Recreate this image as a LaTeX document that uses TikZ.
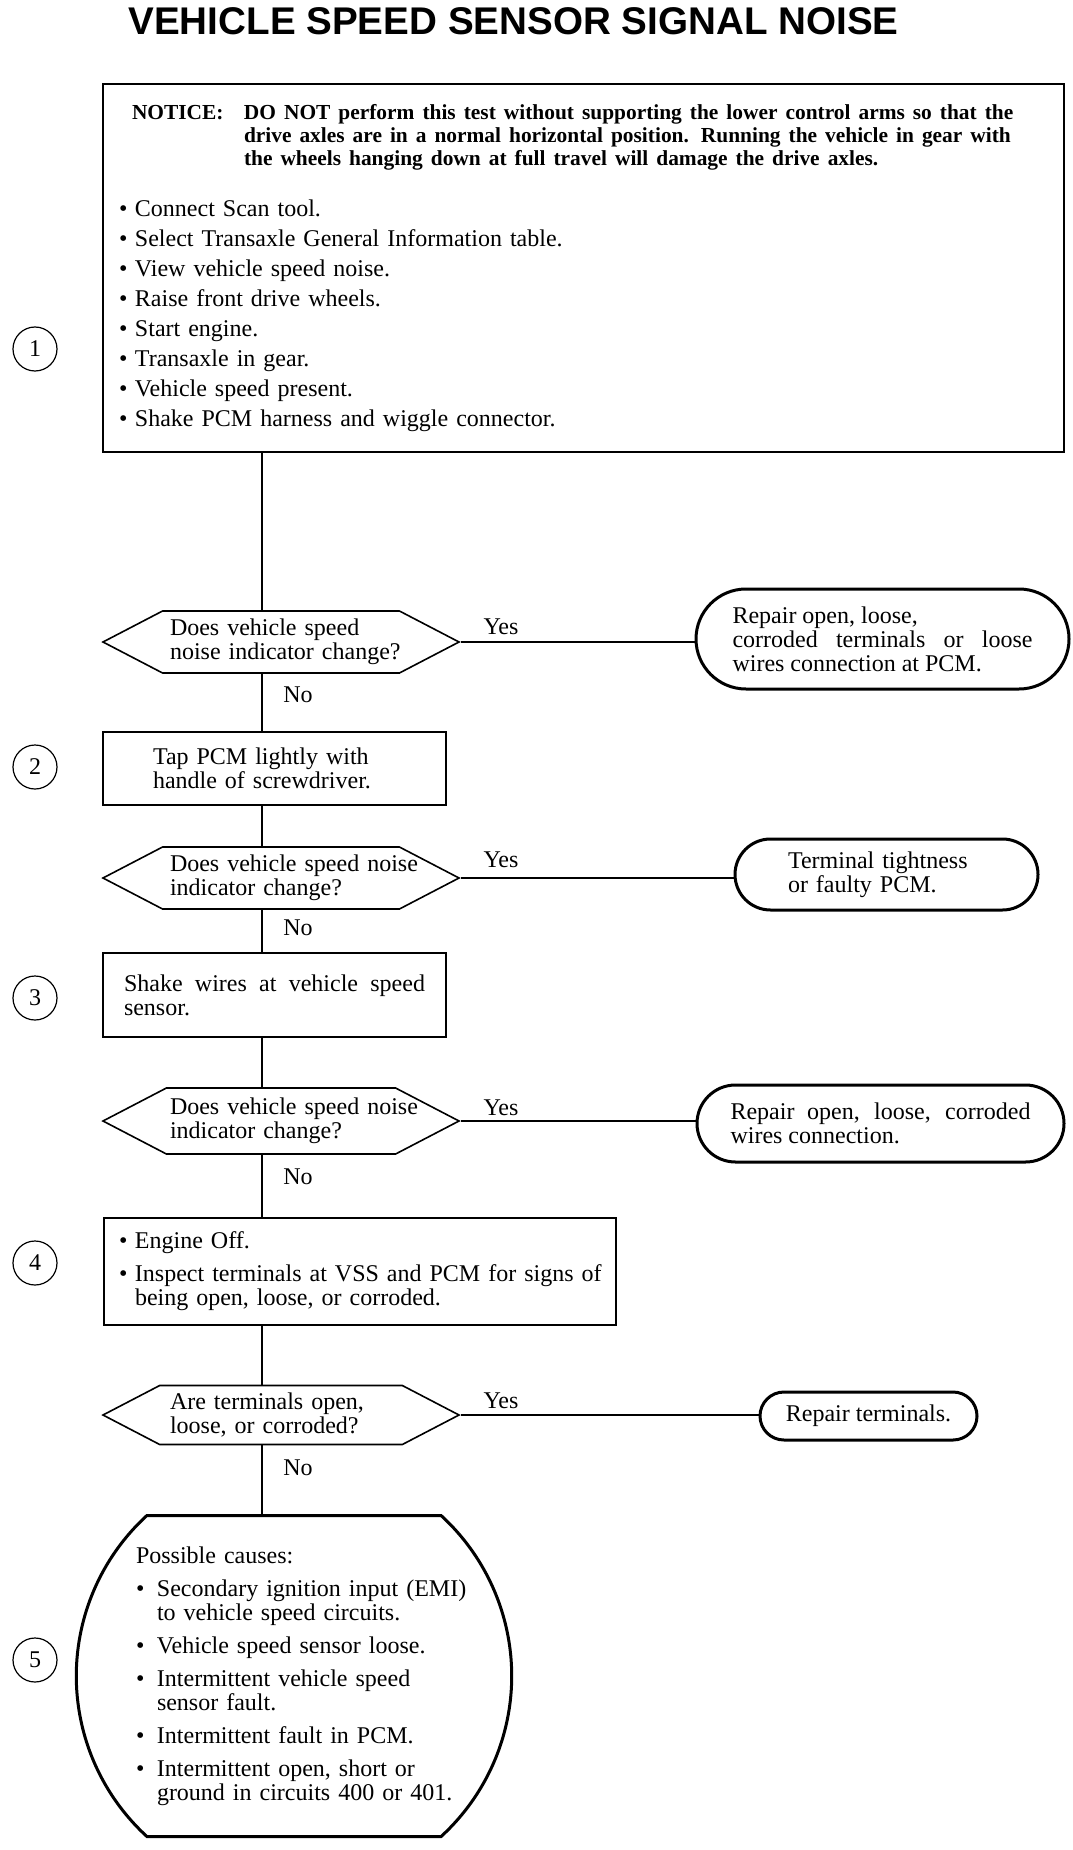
\documentclass[tikz,border=0pt]{standalone}
\usepackage{fontspec}
\setmainfont{Liberation Serif}
\newfontfamily\titlefont{Liberation Sans}
\usetikzlibrary{shapes.misc,shapes.symbols}

\newcommand{\bul}{\makebox[8pt][l]{\raisebox{0pt}{\fontsize{12}{12}\selectfont\textbullet}}}
\newcommand{\bulc}{\makebox[10.5pt][l]{\raisebox{0pt}{\fontsize{12}{12}\selectfont\textbullet}}}

\tikzset{
  stepbox/.style={draw, line width=1pt, inner sep=0pt, align=left},
  question/.style={draw, line width=0.8pt, shape=signal, signal to=west and east,
    signal pointer angle=55, minimum width=178pt, minimum height=31pt,
    inner sep=0pt, text width=111pt, align=left},
  result/.style={draw, line width=1.5pt, rounded rectangle, inner sep=0pt},
  stepnum/.style={draw, circle, line width=0.6pt, minimum size=22pt, inner sep=0pt},
  answer/.style={inner sep=0pt},
  link/.style={line width=0.8pt}
}

\begin{document}
\begin{tikzpicture}[x=0.5pt, y=-0.5pt, font=\fontsize{12}{12}\selectfont]
    \useasboundingbox (0,0) rectangle (1072,1850);

    \node (title) at (513.5,21) {\titlefont\bfseries\fontsize{19.3}{20}\selectfont VEHICLE SPEED SENSOR SIGNAL NOISE};

    % step 1
    \node (box1) at (583.5,268) [stepbox, minimum width=480.5pt, minimum height=184pt, text width=464.5pt]{%
      {\fontsize{10.7}{11.5}\selectfont\bfseries
      \hspace*{6.5pt}\makebox[56pt][l]{NOTICE:}\mbox{DO NOT perform this test without supporting the lower control arms so that the}\\
      \hspace*{62.5pt}\mbox{drive axles are in a normal horizontal position. Running the vehicle in gear with}\\
      \hspace*{62.5pt}\mbox{the wheels hanging down at full travel will damage the drive axles.}\par}
      \vspace{10.5pt}
      {\baselineskip=15pt
      \bul Connect Scan tool.\\
      \bul Select Transaxle General Information table.\\
      \bul View vehicle speed noise.\\
      \bul Raise front drive wheels.\\
      \bul Start engine.\\
      \bul Transaxle in gear.\\
      \bul Vehicle speed present.\\
      \bul Shake PCM harness and wiggle connector.\par}};
    \node (n1) at (35,349) [stepnum]{1};

    \node (d1) at (281,642) [question]{\mbox{Does vehicle speed}\\ \mbox{noise indicator change?}};
    \node (t1) at (882.5,639) [result, minimum width=186.5pt, minimum height=50pt, text width=150pt, align=justify]{Repair open, loose,\\ corroded terminals or loose\linebreak wires connection at PCM.};

    % step 2
    \node (box2) at (274.5,768.5) [stepbox, minimum width=171.5pt, minimum height=36.5pt, text width=121.5pt]{Tap PCM lightly with\\ handle of screwdriver.};
    \node (n2) at (35,767) [stepnum]{2};

    \node (d2) at (281,878) [question]{\mbox{Does vehicle speed noise}\\ \mbox{indicator change?}};
    \node (t2) at (886.5,874.5) [result, minimum width=151.5pt, minimum height=35.5pt, text width=98.5pt, align=left]{Terminal tightness\\ or faulty PCM.};

    % step 3
    \node (box3) at (274.5,995) [stepbox, minimum width=171.5pt, minimum height=42pt, text width=150.5pt, align=justify]{Shake wires at vehicle speed\linebreak sensor.};
    \node (n3) at (35,998) [stepnum]{3};

    \node (d3) at (281,1121) [question, minimum height=33pt]{\mbox{Does vehicle speed noise}\\ \mbox{indicator change?}};
    \node (t3) at (880.5,1123.5) [result, minimum width=183.5pt, minimum height=38.5pt, text width=150pt, align=justify]{Repair open, loose, corroded\linebreak wires connection.};

    % step 4
    \node (box4) at (360,1271.5) [stepbox, minimum width=256pt, minimum height=53.5pt, text width=241pt]{%
      \bul Engine Off.\\[4.5pt]
      \bul \mbox{Inspect terminals at VSS and PCM for signs of}\\
      \hspace*{8pt}being open, loose, or corroded.};
    \node (n4) at (35,1263) [stepnum]{4};

    \node (d4) at (281,1415) [question, minimum height=29.5pt]{\mbox{Are terminals open,}\\ \mbox{loose, or corroded?}};
    \node (t4) at (868.5,1416) [result, minimum width=108.5pt, minimum height=24pt]{Repair terminals.};

    % step 5
    \node (t5) at (294,1676) [result, rounded rectangle arc length=95, minimum width=211pt, minimum height=160.5pt, text width=158pt, align=left]{%
      Possible causes:\\[4.5pt]
      \bulc\mbox{Secondary ignition input (EMI)}\\
      \hspace*{10.5pt}to vehicle speed circuits.\\[4.5pt]
      \bulc Vehicle speed sensor loose.\\[4.5pt]
      \bulc Intermittent vehicle speed\\
      \hspace*{10.5pt}sensor fault.\\[4.5pt]
      \bulc Intermittent fault in PCM.\\[4.5pt]
      \bulc Intermittent open, short or\\
      \hspace*{10.5pt}\mbox{ground in circuits 400 or 401.}};
    \node (n5) at (35,1660) [stepnum]{5};

    % trunk
    \coordinate (trunk) at (262,0);
    \draw[link] (box1.south -| trunk) -- (d1.north -| trunk);
    \draw[link] (d1.south -| trunk) -- (box2.north -| trunk);
    \draw[link] (box2.south -| trunk) -- (d2.north -| trunk);
    \draw[link] (d2.south -| trunk) -- (box3.north -| trunk);
    \draw[link] (box3.south -| trunk) -- (d3.north -| trunk);
    \draw[link] (d3.south -| trunk) -- (box4.north -| trunk);
    \draw[link] (box4.south -| trunk) -- (d4.north -| trunk);
    \draw[link] (d4.south -| trunk) -- (t5.north -| trunk);

    % yes branches
    \draw[link] (d1.east) -- (d1.east -| t1.west);
    \draw[link] (d2.east) -- (d2.east -| t2.west);
    \draw[link] (d3.east) -- (d3.east -| t3.west);
    \draw[link] (d4.east) -- (d4.east -| t4.west);

    \node (yes1) at (501,627) [answer]{Yes};
    \node (yes2) at (501,860) [answer]{Yes};
    \node (yes3) at (501,1108) [answer]{Yes};
    \node (yes4) at (501,1401) [answer]{Yes};

    \node (no1) at (298,695) [answer]{No};
    \node (no2) at (298,928) [answer]{No};
    \node (no3) at (298,1177) [answer]{No};
    \node (no4) at (298,1468) [answer]{No};
\end{tikzpicture}
\end{document}
